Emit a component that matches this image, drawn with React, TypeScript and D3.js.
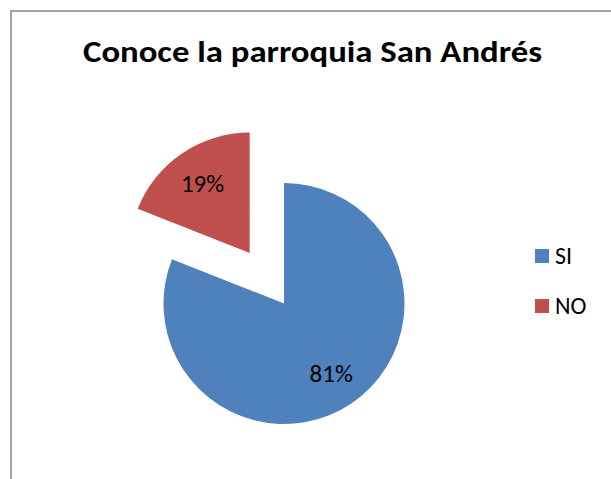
import React from "react";
import * as d3 from "d3";

const categories = ["SI", "NO"];
const values = [81, 19];
const colors = ["#4F81BD", "#C0504D"];
const title = "Conoce la parroquia San Andrés";

const W = 611;
const H = 479;
const FONT = "Carlito, Calibri, Lato, 'Open Sans', sans-serif";

export default function App() {
  const cx = 284;
  const cy = 303.5;
  const R = 120.5;
  const explode = [0, 61];

  const pie = d3.pie<number>().sort(null).value((d) => d);
  const arcs = pie(values);
  const arc = d3.arc<d3.PieArcDatum<number>>().innerRadius(0).outerRadius(R);
  const labelArc = d3.arc<d3.PieArcDatum<number>>().innerRadius(84).outerRadius(84);
  const total = d3.sum(values);

  const legendY = d3.scalePoint<string>().domain(categories).range([256, 306]);

  return (
    <svg
      width={W}
      height={H}
      style={{ position: "absolute", left: 0, top: 0, background: "#fff" }}
    >
      <rect x={11} y={11} width={W + 20} height={H + 20} fill="#fff" stroke="#878787" strokeWidth={1.5} />
      <text
        x={312.5}
        y={62}
        textAnchor="middle"
        fontFamily={FONT}
        fontWeight="bold"
        fontSize={31}
        textLength={459}
        lengthAdjust="spacingAndGlyphs"
        fill="#000"
      >
        {title}
      </text>
      {arcs.map((a, i) => {
        const mid = (a.startAngle + a.endAngle) / 2;
        const dx = Math.sin(mid) * explode[i];
        const dy = -Math.cos(mid) * explode[i];
        const [lx, ly] = labelArc.centroid(a);
        return (
          <g key={categories[i]} transform={`translate(${cx + dx},${cy + dy})`}>
            <path d={arc(a) || ""} fill={colors[i]} />
            <text
              x={lx}
              y={ly}
              dy="0.35em"
              textAnchor="middle"
              fontFamily={FONT}
              fontSize={25}
              fill="#000"
            >
              {`${Math.round((values[i] / total) * 100)}%`}
            </text>
          </g>
        );
      })}
      {categories.map((c, i) => (
        <g key={c} transform={`translate(535,${legendY(c)})`}>
          <rect x={0} y={-7} width={14} height={14} fill={colors[i]} />
          <text x={20} y={0} dy="0.35em" fontFamily={FONT} fontSize={24} fill="#000">
            {c}
          </text>
        </g>
      ))}
    </svg>
  );
}
